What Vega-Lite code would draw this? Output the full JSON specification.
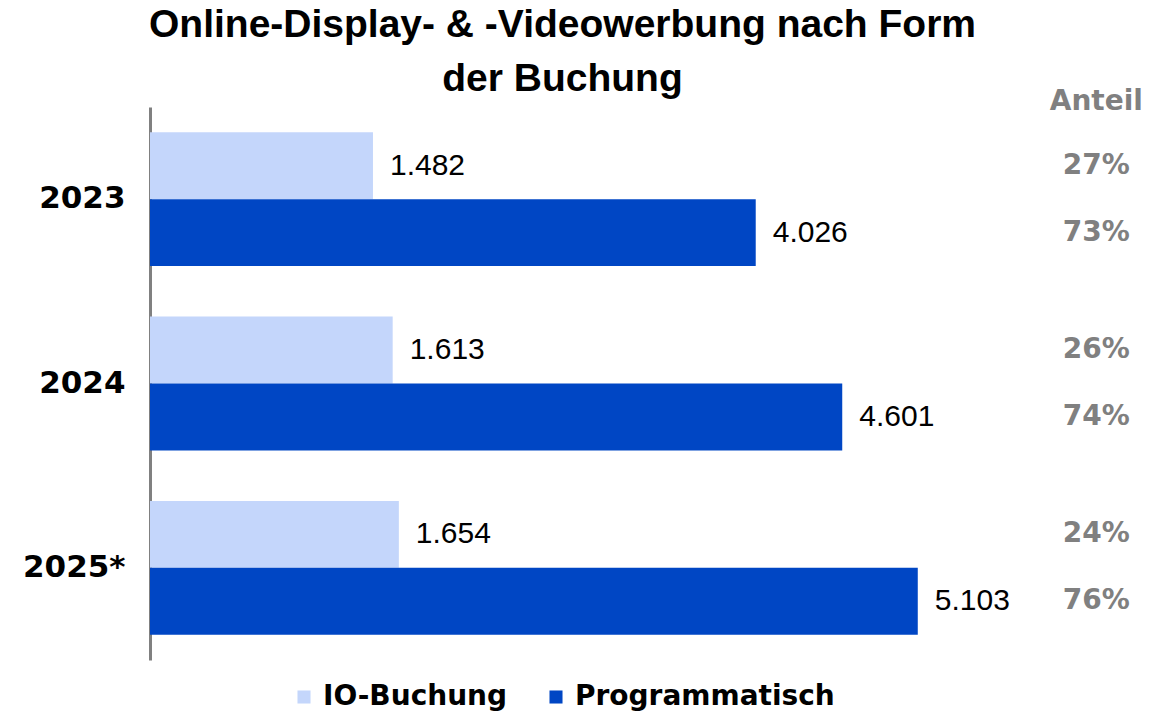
{
  "$schema": "https://vega.github.io/schema/vega-lite/v6.json",
  "width": 993,
  "height": 553,
  "autosize": {"type": "none"},
  "padding": {"left": 150, "top": 107, "right": 27, "bottom": 53},
  "config": {
    "view": {"stroke": null},
    "locale": {"number": {"decimal": ",", "thousands": ".", "grouping": [3], "currency": ["", " €"]}}
  },
  "title": {
    "text": ["Online-Display- & -Videowerbung nach Form", "der Buchung"],
    "font": "Liberation Sans",
    "fontSize": 39,
    "fontWeight": "bold",
    "lineHeight": 54,
    "color": "#000000",
    "anchor": "middle",
    "dx": -84,
    "offset": -11
  },
  "data": {
    "values": [
      {"year": "2023", "type": "IO-Buchung", "value": 1482, "pct": "27%"},
      {"year": "2023", "type": "Programmatisch", "value": 4026, "pct": "73%"},
      {"year": "2024", "type": "IO-Buchung", "value": 1613, "pct": "26%"},
      {"year": "2024", "type": "Programmatisch", "value": 4601, "pct": "74%"},
      {"year": "2025*", "type": "IO-Buchung", "value": 1654, "pct": "24%"},
      {"year": "2025*", "type": "Programmatisch", "value": 5103, "pct": "76%"}
    ]
  },
  "encoding": {
    "y": {
      "field": "year",
      "type": "nominal",
      "sort": null,
      "scale": {"paddingInner": 0.274, "paddingOuter": 0.137},
      "axis": {
        "title": null,
        "ticks": false,
        "domainColor": "#808080",
        "domainWidth": 3,
        "labelFont": "DejaVu Sans",
        "labelFontWeight": "bold",
        "labelFontSize": 31,
        "labelColor": "#000000",
        "labelPadding": 25
      }
    },
    "yOffset": {
      "field": "type",
      "type": "nominal",
      "sort": ["IO-Buchung", "Programmatisch"],
      "scale": {"paddingInner": 0, "paddingOuter": 0}
    }
  },
  "layer": [
    {
      "mark": {"type": "bar"},
      "encoding": {
        "x": {"field": "value", "type": "quantitative", "scale": {"domain": [0, 6600], "nice": false}, "axis": null},
        "color": {
          "field": "type",
          "type": "nominal",
          "scale": {"domain": ["IO-Buchung", "Programmatisch"], "range": ["#c4d6fb", "#0046c4"]},
          "legend": {
            "title": null,
            "orient": "none",
            "direction": "horizontal",
            "legendX": 140,
            "legendY": 576,
            "symbolType": "square",
            "symbolSize": 170,
            "symbolStrokeWidth": 0,
            "labelFont": "DejaVu Sans",
            "labelFontWeight": "bold",
            "labelFontSize": 28,
            "labelColor": "#000000",
            "labelOffset": 5,
            "columnPadding": 34,
            "labelLimit": 400
          }
        }
      }
    },
    {
      "mark": {"type": "text", "align": "left", "baseline": "middle", "dx": 17, "font": "Liberation Sans", "fontSize": 30, "color": "#000000"},
      "encoding": {
        "x": {"field": "value", "type": "quantitative"},
        "text": {"field": "value", "type": "quantitative", "format": ",d"}
      }
    },
    {
      "mark": {"type": "text", "align": "center", "baseline": "middle", "font": "DejaVu Sans", "fontWeight": "bold", "fontSize": 28, "color": "#808080"},
      "encoding": {
        "x": {"datum": 6290, "type": "quantitative"},
        "text": {"field": "pct", "type": "nominal"}
      }
    },
    {
      "data": {"values": [{"label": "Anteil"}]},
      "mark": {"type": "text", "align": "center", "baseline": "alphabetic", "font": "DejaVu Sans", "fontWeight": "bold", "fontSize": 28, "color": "#808080", "dy": 3},
      "encoding": {
        "x": {"datum": 6290, "type": "quantitative"},
        "y": {"value": 0},
        "yOffset": {"value": 0},
        "text": {"field": "label", "type": "nominal"}
      }
    }
  ]
}
